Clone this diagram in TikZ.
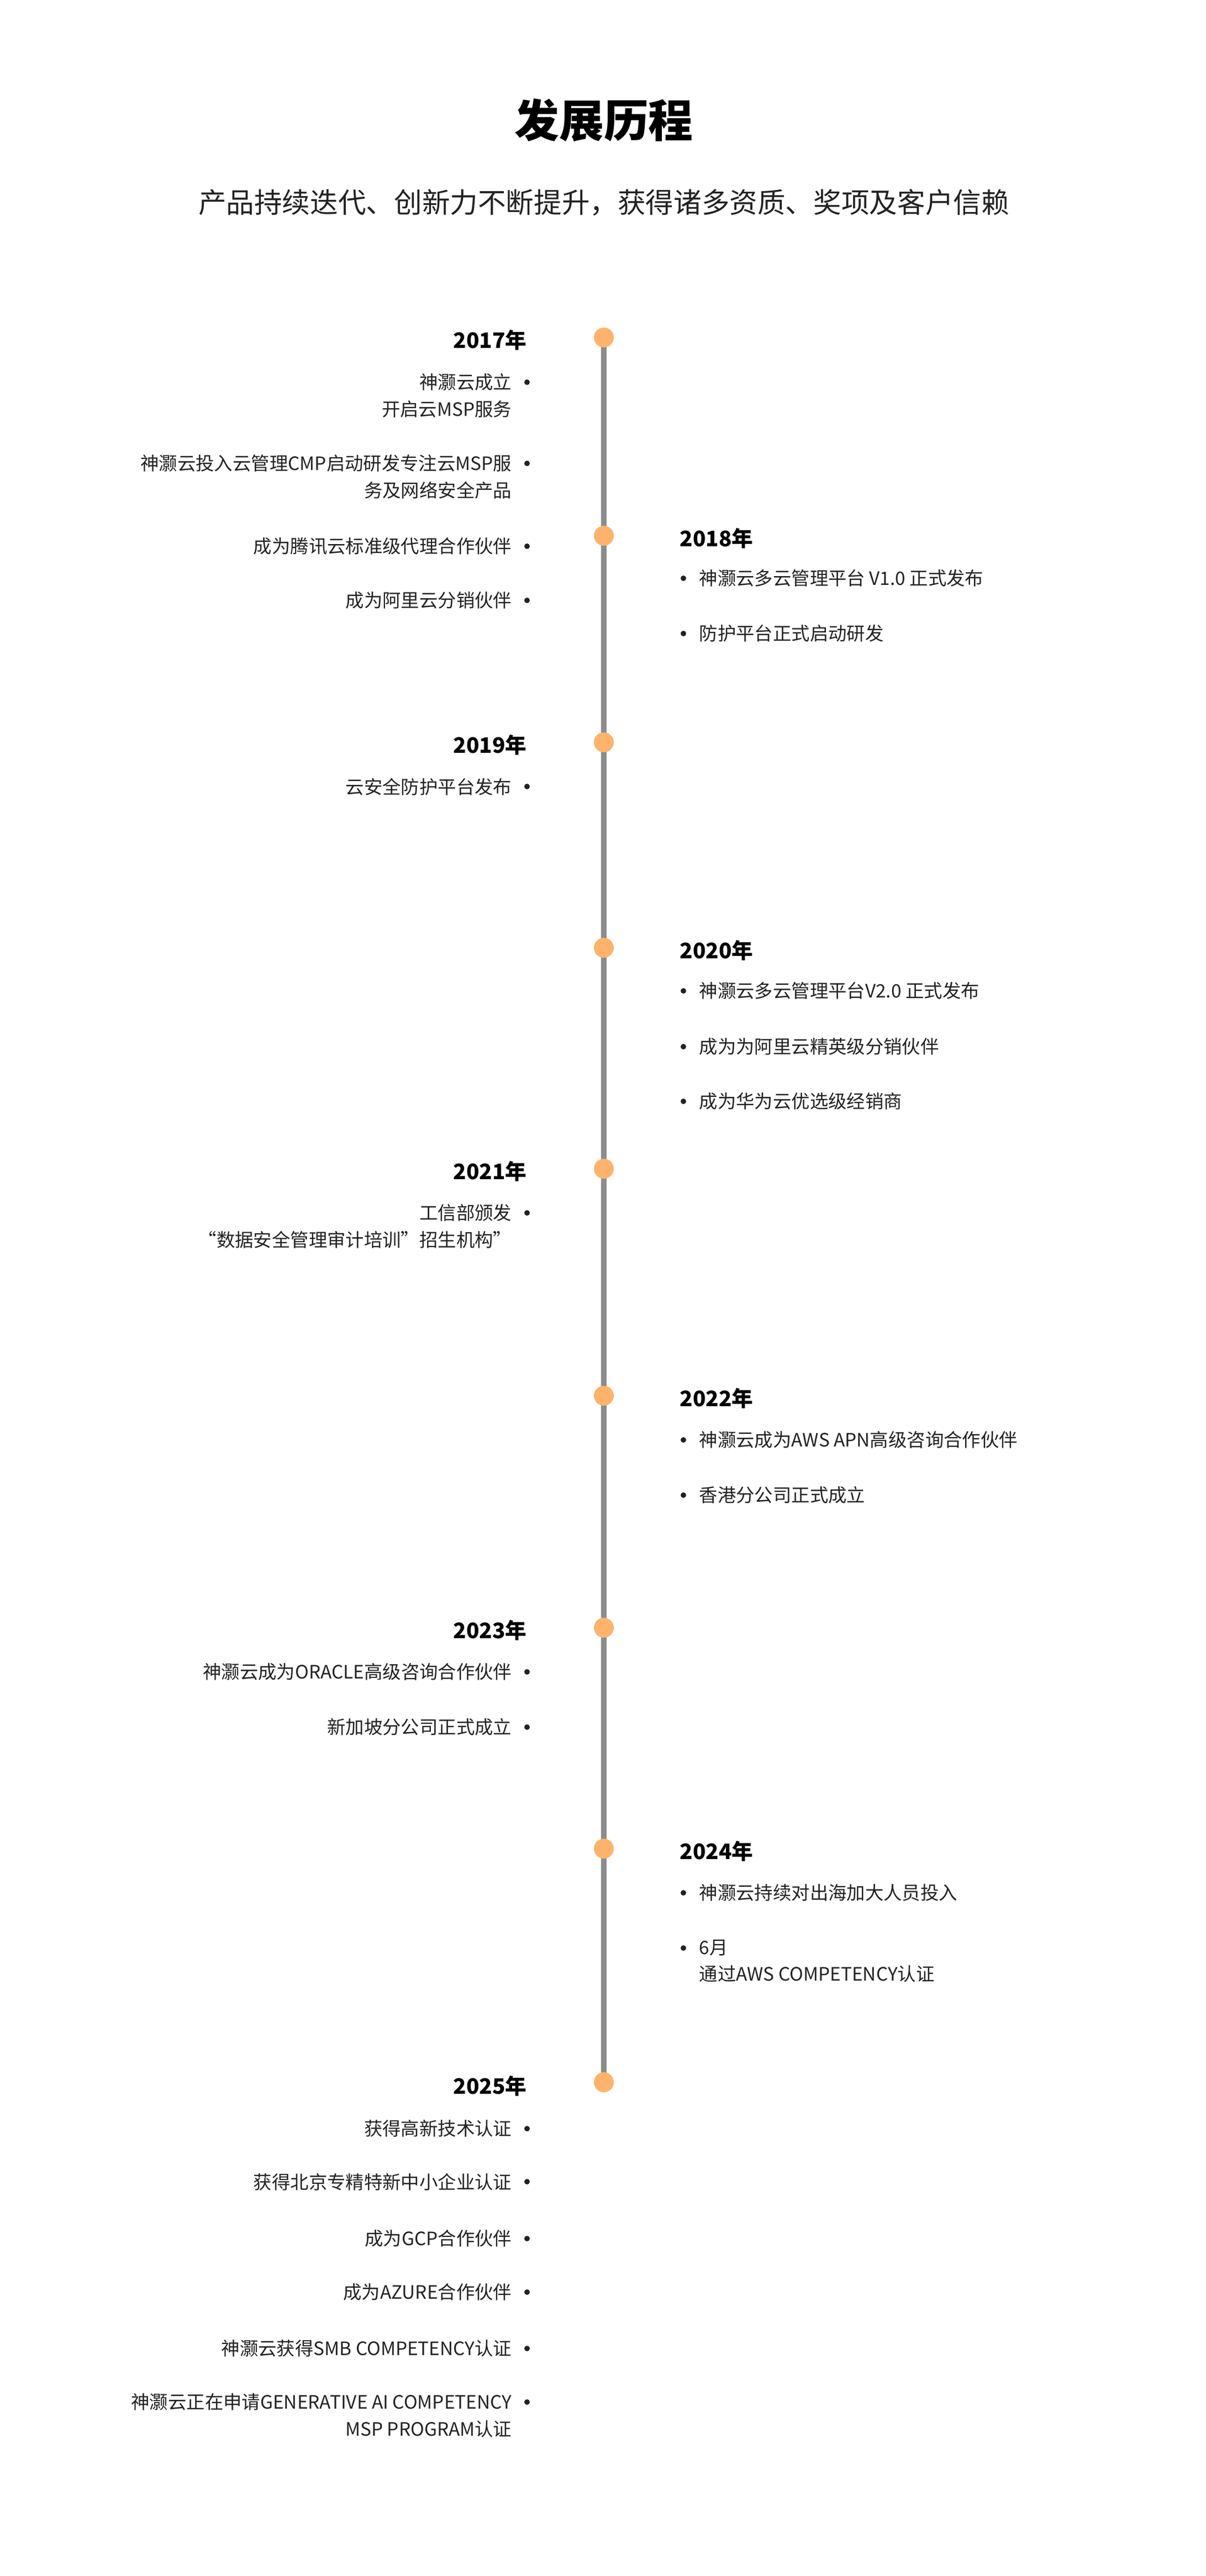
\documentclass[tikz,border=0pt]{standalone}
\usepackage{fontspec}
\setmainfont{Noto Sans CJK SC}
\definecolor{txt}{HTML}{222222}
\definecolor{dotc}{HTML}{FDB36B}
\definecolor{linec}{HTML}{8C8C8C}
\tikzset{
 yr/.style={font=\fontsize{11}{13}\selectfont\bfseries,text=black,inner sep=0},
 item/.style={font=\fontsize{9.5}{13.9}\selectfont,text=txt,inner sep=0},
 bul/.style={circle,fill=txt,inner sep=0,minimum size=0.1cm},
 ydot/.style={circle,fill=dotc,inner sep=0,minimum size=0.36cm},
}
\newcommand{\LY}[3]{\node[yr,anchor=east] (#1) at (9.54,-#2) {#3};}
\newcommand{\RY}[3]{\node[yr,anchor=west] (#1) at (12.30,-#2) {#3};}
\newcommand{\LI}[3]{\node[bul] (#1b) at (9.54,-#2) {};\node[item,anchor=north east,align=right] (#1) at (9.27,-#2+0.16) {#3};}
\newcommand{\RI}[3]{\node[bul] (#1b) at (12.37,-#2) {};\node[item,anchor=north west,align=left] (#1) at (12.65,-#2+0.16) {#3};}
\begin{document}
\begin{tikzpicture}
\useasboundingbox (0,0) rectangle (21.83,-46.64);
\node[font=\fontsize{23}{28}\selectfont\bfseries] (title) at (10.93,-2.18) {发展历程};
\node[font=\fontsize{14.4}{18}\selectfont,text=txt] (sub) at (10.93,-3.67) {产品持续迭代、创新力不断提升，获得诸多资质、奖项及客户信赖};
\coordinate (top) at (10.93,-6.11);
\coordinate (bot) at (10.93,-37.70);
\draw[linec,line width=2.8pt] (top) -- (bot);
\foreach \n/\y in {a/6.11,b/9.70,c/13.44,d/17.16,e/21.16,f/25.27,g/29.47,h/33.47,i/37.70}
 \node[ydot] (dot\n) at (10.93,-\y) {};
% 2017
\LY{y17}{6.16}{2017年}
\LI{i171}{6.92}{神灏云成立\\开启云MSP服务}
\LI{i172}{8.39}{神灏云投入云管理CMP启动研发专注云MSP服\\务及网络安全产品}
\LI{i173}{9.89}{成为腾讯云标准级代理合作伙伴}
\LI{i174}{10.87}{成为阿里云分销伙伴}
% 2018
\RY{y18}{9.75}{2018年}
\RI{i181}{10.47}{神灏云多云管理平台 V1.0 正式发布}
\RI{i182}{11.47}{防护平台正式启动研发}
% 2019
\LY{y19}{13.49}{2019年}
\LI{i191}{14.24}{云安全防护平台发布}
% 2020
\RY{y20}{17.21}{2020年}
\RI{i201}{17.94}{神灏云多云管理平台V2.0 正式发布}
\RI{i202}{18.95}{成为为阿里云精英级分销伙伴}
\RI{i203}{19.94}{成为华为云优选级经销商}
% 2021
\LY{y21}{21.21}{2021年}
\LI{i211}{21.96}{工信部颁发\\“数据安全管理审计培训”招生机构”}
% 2022
\RY{y22}{25.32}{2022年}
\RI{i221}{26.07}{神灏云成为AWS APN高级咨询合作伙伴}
\RI{i222}{27.07}{香港分公司正式成立}
% 2023
\LY{y23}{29.52}{2023年}
\LI{i231}{30.27}{神灏云成为ORACLE高级咨询合作伙伴}
\LI{i232}{31.27}{新加坡分公司正式成立}
% 2024
\RY{y24}{33.52}{2024年}
\RI{i241}{34.27}{神灏云持续对出海加大人员投入}
\RI{i242}{35.27}{6月\\通过AWS COMPETENCY认证}
% 2025
\LY{y25}{37.77}{2025年}
\LI{i251}{38.54}{获得高新技术认证}
\LI{i252}{39.50}{获得北京专精特新中小企业认证}
\LI{i253}{40.53}{成为GCP合作伙伴}
\LI{i254}{41.50}{成为AZURE合作伙伴}
\LI{i255}{42.52}{神灏云获得SMB COMPETENCY认证}
\LI{i256}{43.49}{神灏云正在申请GENERATIVE AI COMPETENCY\\MSP PROGRAM认证}
\end{tikzpicture}
\end{document}
